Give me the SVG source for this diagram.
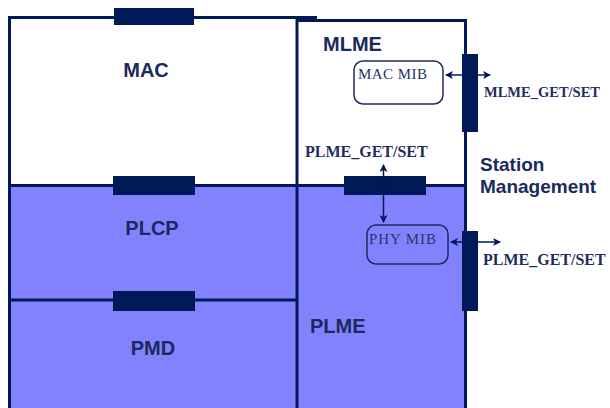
<svg xmlns="http://www.w3.org/2000/svg" width="610" height="408" viewBox="0 0 610 408">
<defs>
<style>
.ln{stroke:#001a57;stroke-width:3;fill:none}
.sap{fill:#001a57}
.lbl{font-family:"Liberation Sans",Arial,sans-serif;font-weight:bold;font-size:20px;fill:#1b2a5e}
.ser{font-family:"Liberation Serif","Times New Roman",serif;font-weight:bold;font-size:16px;fill:#1f2c60}
.mib{fill:none;stroke:#1f2c60;stroke-width:1.5}
.mibt{font-family:"Liberation Serif","Times New Roman",serif;font-size:15px;fill:#2a3566}
.arr{stroke:#001a57;stroke-width:1.5;fill:none;marker-start:url(#ah);marker-end:url(#ah)}
</style>
<marker id="ah" markerUnits="userSpaceOnUse" markerWidth="8" markerHeight="8" refX="7" refY="4" orient="auto-start-reverse">
<path d="M0,0 L8,4 L0,8 L2,4 z" fill="#001a57"/>
</marker>
</defs>
<rect width="610" height="408" fill="#ffffff"/>
<g id="MAC">
<rect x="9" y="17" width="288" height="168" fill="#ffffff"/>
<text class="lbl" x="146" y="77" text-anchor="middle">MAC</text>
</g>
<g id="PLCP">
<rect x="9" y="185" width="288" height="115" fill="#8282ff"/>
<text class="lbl" x="152" y="235" text-anchor="middle">PLCP</text>
</g>
<g id="PMD">
<rect x="9" y="300" width="288" height="108" fill="#8282ff"/>
<text class="lbl" x="153" y="355" text-anchor="middle">PMD</text>
</g>
<g id="MLME">
<rect x="297" y="20" width="168" height="165" fill="#ffffff"/>
<text class="lbl" x="323" y="51">MLME</text>
</g>
<g id="PLME">
<rect x="297" y="185" width="168" height="223" fill="#8282ff"/>
<text class="lbl" x="310" y="333">PLME</text>
</g>
<g id="frame">
<path class="ln" d="M8,17.5 H317 M297,20.5 H467 M9.5,16 V408 M297,16 V408 M465.5,19 V408 M8,185.5 H467 M8,300 H297"/>
</g>
<g id="saps">
<rect class="sap" x="114" y="8" width="80" height="17"/>
<rect class="sap" x="113" y="176" width="82" height="19"/>
<rect class="sap" x="113" y="291" width="82" height="20"/>
<rect class="sap" x="344" y="176" width="82" height="19"/>
<rect class="sap" x="462" y="54" width="16" height="78"/>
<rect class="sap" x="462" y="231" width="16" height="80"/>
</g>
<g id="MAC_MIB">
<rect class="mib" x="354" y="61" width="89" height="43" rx="9"/>
<text class="mibt" x="358" y="79" textLength="69" lengthAdjust="spacing">MAC MIB</text>
</g>
<g id="PHY_MIB">
<rect class="mib" x="367" y="225" width="81" height="39" rx="9"/>
<text class="mibt" x="369" y="244" textLength="67" lengthAdjust="spacing">PHY MIB</text>
</g>
<g id="connectors">
<line class="arr" x1="446" y1="75" x2="490" y2="75"/>
<line class="arr" x1="383.5" y1="165" x2="383.5" y2="222"/>
<line class="arr" x1="451" y1="242" x2="500" y2="242"/>
</g>
<g id="labels">
<text class="ser" style="font-size:14.5px" x="484" y="97">MLME_GET/SET</text>
<text class="ser" x="305" y="157">PLME_GET/SET</text>
<text class="ser" x="483" y="265">PLME_GET/SET</text>
<text class="lbl" style="font-size:19px" x="480" y="171">Station</text>
<text class="lbl" style="font-size:19px" x="480" y="193">Management</text>
</g>
</svg>
